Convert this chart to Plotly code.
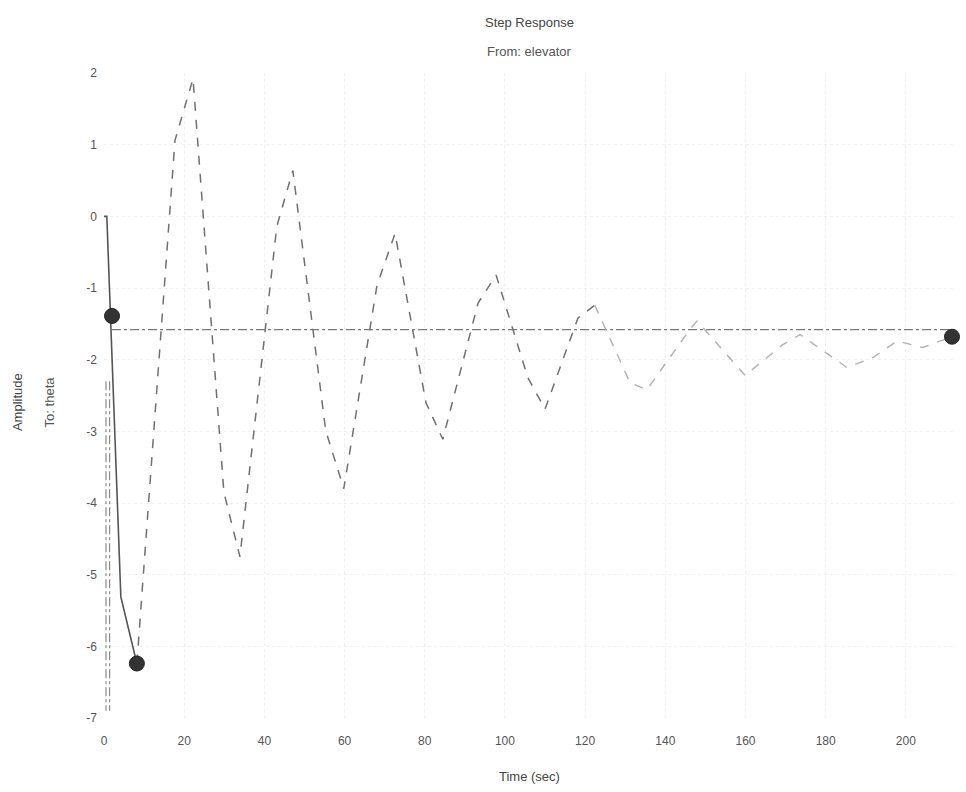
import plotly.graph_objects as go

# Step response vertices (time in sec, amplitude)
t_resp = [0, 0.7, 4.2, 8.2, 17.7, 22.2, 29.9, 33.9, 43.1, 47.1, 55.3, 59.8,
          68.1, 72.6, 80.3, 84.5, 93.3, 97.8, 105.7, 110.0, 118.2, 122.4,
          131.2, 135.4, 146.1, 147.9, 159.9, 169.3, 173.6, 185.3, 191.8,
          197.8, 204.2, 211.5]
y_resp = [0, 0.0, -5.31, -6.24, 1.06, 1.92, -3.85, -4.75, -0.14, 0.64, -2.99, -3.8,
          -0.96, -0.24, -2.6, -3.11, -1.21, -0.82, -2.25, -2.69, -1.42, -1.24,
          -2.32, -2.42, -1.58, -1.46, -2.22, -1.79, -1.65, -2.11, -1.97,
          -1.74, -1.83, -1.68]

steady_value = -1.58
steady_t = [2.0, 211.5]

marker_t = [2.0, 8.2, 211.5]
marker_y = [-1.39, -6.24, -1.68]

x_ticks = [0, 20, 40, 60, 80, 100, 120, 140, 160, 180, 200]
y_ticks = [2, 1, 0, -1, -2, -3, -4, -5, -6, -7]

FONT = "Liberation Sans, Arial, sans-serif"

fig = go.Figure()

# vertical dash-dot marker lines near t=0
for tv in [0.5, 1.4]:
    fig.add_trace(go.Scatter(x=[tv, tv], y=[-2.3, -6.9], mode="lines",
                             line=dict(color="#8a8a8a", width=1.2, dash="dashdot"),
                             hoverinfo="skip", showlegend=False))

# steady-state dash-dot line
fig.add_trace(go.Scatter(x=steady_t, y=[steady_value, steady_value], mode="lines",
                         line=dict(color="#7a7a7a", width=1.3, dash="dashdot"),
                         hoverinfo="skip", showlegend=False))

# response curve split in three parts (darker early, faint late)
i1 = 4
i2 = 22
fig.add_trace(go.Scatter(x=t_resp[:i1], y=y_resp[:i1], mode="lines",
                         line=dict(color="#555555", width=1.6),
                         hoverinfo="skip", showlegend=False))
fig.add_trace(go.Scatter(x=t_resp[i1 - 1:i2], y=y_resp[i1 - 1:i2], mode="lines",
                         line=dict(color="#707070", width=1.5, dash="dash"),
                         hoverinfo="skip", showlegend=False))
fig.add_trace(go.Scatter(x=t_resp[i2 - 1:], y=y_resp[i2 - 1:], mode="lines",
                         line=dict(color="#b0b0b0", width=1.4, dash="dash"),
                         hoverinfo="skip", showlegend=False))

# characteristic markers
fig.add_trace(go.Scatter(x=marker_t, y=marker_y, mode="markers",
                         marker=dict(size=15, color="#333333",
                                     line=dict(color="#222222", width=1)),
                         cliponaxis=False, hoverinfo="skip", showlegend=False))

fig.update_layout(
    width=966, height=792,
    margin=dict(l=104, r=12, t=73, b=74),
    paper_bgcolor="white", plot_bgcolor="white",
    font=dict(family=FONT, size=12, color="#555555"),
    showlegend=False,
    xaxis=dict(range=[0, 212], tickvals=x_ticks, ticktext=[str(v) for v in x_ticks],
               showgrid=True, gridcolor="#efefef", griddash="dot", gridwidth=1,
               zeroline=False, showline=False, ticks="", ticklabelstandoff=14,
               tickfont=dict(size=12, color="#555555")),
    yaxis=dict(range=[-7, 2], tickvals=y_ticks, ticktext=[str(v) for v in y_ticks],
               showgrid=True, gridcolor="#efefef", griddash="dot", gridwidth=1,
               zeroline=False, showline=False, ticks="", ticklabelstandoff=6,
               tickfont=dict(size=12, color="#555555")),
    annotations=[
        dict(text="Step Response", x=0.5, y=1.079, xref="paper", yref="paper",
             showarrow=False, xanchor="center", yanchor="middle",
             font=dict(size=13, color="#444444")),
        dict(text="From: elevator", x=0.5, y=1.033, xref="paper", yref="paper",
             showarrow=False, xanchor="center", yanchor="middle",
             font=dict(size=13, color="#555555")),
        dict(text="Time (sec)", x=0.5, y=-0.09, xref="paper", yref="paper",
             showarrow=False, xanchor="center", yanchor="middle",
             font=dict(size=13, color="#444444")),
        dict(text="Amplitude", x=-0.101, y=0.49, xref="paper", yref="paper",
             showarrow=False, xanchor="center", yanchor="middle", textangle=-90,
             font=dict(size=13, color="#444444")),
        dict(text="To: theta", x=-0.063, y=0.49, xref="paper", yref="paper",
             showarrow=False, xanchor="center", yanchor="middle", textangle=-90,
             font=dict(size=13, color="#555555")),
    ],
)

fig.write_html("out.html")
